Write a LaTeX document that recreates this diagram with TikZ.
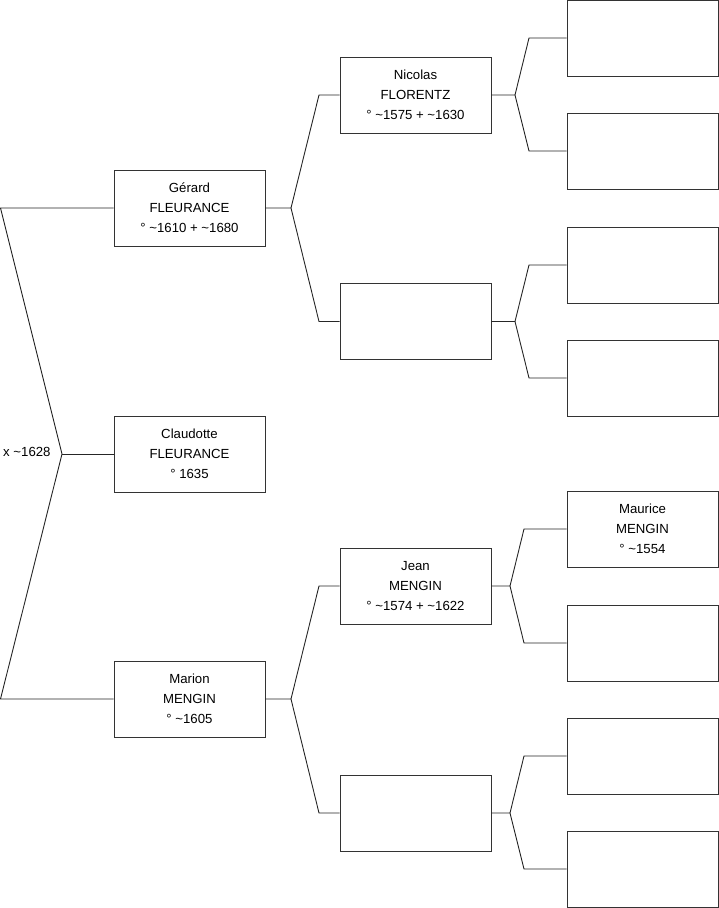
\documentclass[tikz,border=0pt]{standalone}
\usepackage{fontspec}
\setmainfont{Liberation Sans}
\newcommand\pinfo[1]{\raisebox{1.5pt}{\begin{tabular}{@{}c@{}}#1\end{tabular}}}
\begin{document}
\begin{tikzpicture}[x=1pt,y=-1pt,
  person/.style={draw=black!80, line width=0.9pt, minimum width=151pt, minimum height=76pt, inner sep=0pt, align=center, font=\fontsize{13.2}{20}\selectfont},
  link/.style={draw=black!85, line width=0.9pt}]
\useasboundingbox (0,0) rectangle (719,908);
% column 1
\node[person] (gerard) at (189.5,208) {\pinfo{Gérard\\FLEURANCE\\° \textasciitilde1610 + \textasciitilde1680}};
\node[person] (claudotte) at (189.5,454) {\pinfo{Claudotte\\FLEURANCE\\° 1635}};
\node[person] (marion) at (189.5,699) {\pinfo{Marion\\MENGIN\\° \textasciitilde1605}};
% column 2
\node[person] (nicolas) at (415.5,95) {\pinfo{Nicolas\\FLORENTZ\\° \textasciitilde1575 + \textasciitilde1630}};
\node[person] (e2a) at (415.5,321.5) {};
\node[person] (jean) at (415.5,586) {\pinfo{Jean\\MENGIN\\° \textasciitilde1574 + \textasciitilde1622}};
\node[person] (e2b) at (415.5,813) {};
% column 3
\node[person] (r1) at (642.5,38) {};
\node[person] (r2) at (642.5,151) {};
\node[person] (r3) at (642.5,265) {};
\node[person] (r4) at (642.5,378) {};
\node[person] (maurice) at (642.5,529) {\pinfo{Maurice\\MENGIN\\° \textasciitilde1554}};
\node[person] (r6) at (642.5,643) {};
\node[person] (r7) at (642.5,756) {};
\node[person] (r8) at (642.5,869) {};
% marriage label
\node[font=\fontsize{13.2}{15}\selectfont, anchor=west, inner sep=0pt] (mar) at (3,452) {x \textasciitilde1628};
% left connectors
\coordinate (lt) at (0.5,208);
\coordinate (lb) at (0.5,699);
\coordinate (lm) at (62,454);
\draw[link] (gerard.west) -- (lt) -- (lm) -- (lb) -- (marion.west);
\draw[link] (lm) -- (claudotte.west);
% gerard parents
\coordinate (g0) at (291,208);
\draw[link] (gerard.east) -- (g0) -- (319,95) -- (nicolas.west);
\draw[link] (g0) -- (319,321.5) -- (e2a.west);
% marion parents
\coordinate (m0) at (291,699);
\draw[link] (marion.east) -- (m0) -- (319,586) -- (jean.west);
\draw[link] (m0) -- (319,813) -- (e2b.west);
% nicolas parents
\coordinate (n0) at (515,95);
\draw[link] (nicolas.east) -- (n0) -- (529,38) -- (r1.west);
\draw[link] (n0) -- (529,151) -- (r2.west);
% e2a parents
\coordinate (a0) at (515,321.5);
\draw[link] (e2a.east) -- (a0) -- (529,265) -- (r3.west);
\draw[link] (a0) -- (529,378) -- (r4.west);
% jean parents
\coordinate (j0) at (510,586);
\draw[link] (jean.east) -- (j0) -- (524,529) -- (maurice.west);
\draw[link] (j0) -- (524,643) -- (r6.west);
% e2b parents
\coordinate (b0) at (510,813);
\draw[link] (e2b.east) -- (b0) -- (524,756) -- (r7.west);
\draw[link] (b0) -- (524,869) -- (r8.west);
\end{tikzpicture}
\end{document}
